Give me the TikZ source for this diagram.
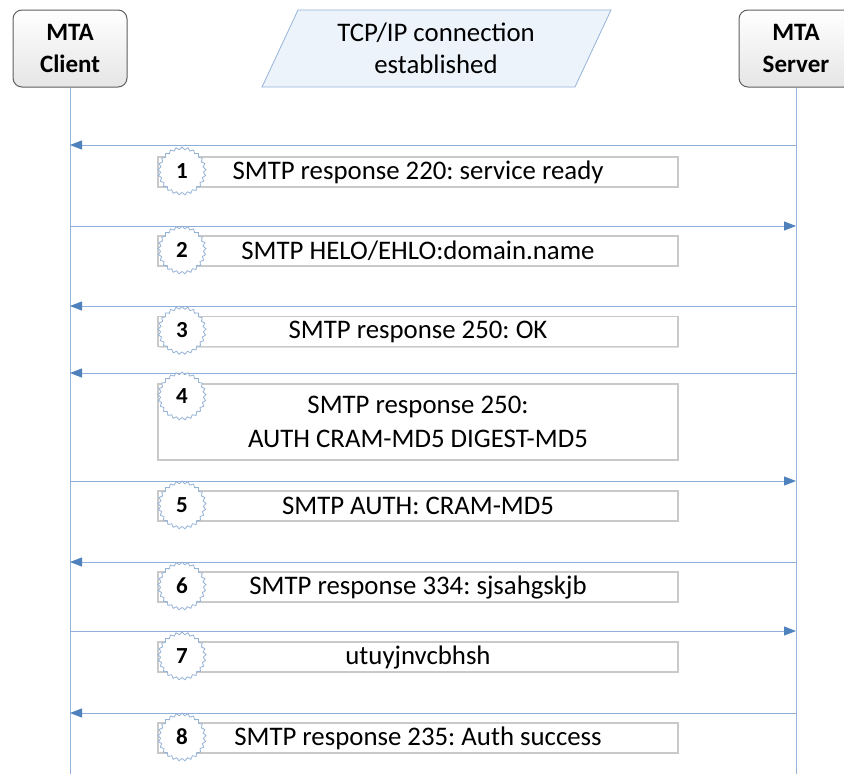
\documentclass[tikz,border=0pt]{standalone}
\usepackage{fontspec}
\setmainfont{Carlito}
\usetikzlibrary{arrows.meta,shapes.geometric,shadows}
\definecolor{lifeblue}{HTML}{95B3D7}
\definecolor{arrowblue}{HTML}{4F81BD}
\definecolor{msgline}{HTML}{8EB0DA}
\definecolor{paraFill}{HTML}{EDF3FB}
\definecolor{boxgray}{HTML}{C9C9C9}
\definecolor{actorgray}{HTML}{5F5F5F}
\tikzset{
  actor/.style={draw=actorgray, line width=1pt, rounded corners=9pt,
    top color=white, bottom color=black!10, minimum width=114pt,
    minimum height=77pt, align=center, font=\fontsize{25}{32}\selectfont\bfseries},
  lifeline/.style={draw=lifeblue, line width=1pt},
  msg/.style={draw=msgline, line width=1pt,
    -{Triangle[length=12pt,width=9pt,fill=arrowblue,color=arrowblue]}},
  msgbox/.style={draw=boxgray, line width=1.2pt, fill=white, minimum width=520pt,
    align=center, font=\fontsize{26.8}{34}\selectfont,
    drop shadow={shadow xshift=1pt, shadow yshift=-1pt, opacity=0.25}},
  badge/.style={star, star points=25, star point ratio=1.12, minimum size=48pt,
    draw=lifeblue, line width=0.8pt, fill=white, inner sep=0pt,
    font=\fontsize{23}{23}\selectfont\bfseries}
}
\begin{document}
\frenchspacing
\begin{tikzpicture}[x=1pt,y=-1pt]
\useasboundingbox (0,0) rectangle (844,774);

% participants
\node[actor] (client) at (70,48.5) {MTA\\Client};
\node[actor] (server) at (796,48.5) {MTA\\Server};

% connection banner
\draw[draw=lifeblue, fill=paraFill, line width=0.8pt]
  (298,10) -- (611,10) -- (575,87) -- (262,87) -- cycle;
\node[align=center, font=\fontsize{26.8}{32}\selectfont] (conn) at (436,48.5)
  {TCP/IP connection\\established};

% lifelines
\coordinate (cend) at (70,774);
\coordinate (send) at (796,774);
\draw[lifeline] (client.south) -- (cend);
\draw[lifeline] (server.south) -- (send);

% message arrows
\foreach \y/\dir [count=\i] in {145/sc, 226/cs, 306/sc, 373/sc, 481/cs, 562/sc, 631/cs, 713/sc}{
  \coordinate (c\i) at (70,\y);
  \coordinate (s\i) at (796,\y);
  \ifnum\pdfstrcmp{\dir}{sc}=0
    \draw[msg] (s\i) -- (c\i);
  \else
    \draw[msg] (c\i) -- (s\i);
  \fi
}

% message boxes
\node[msgbox, minimum height=30pt] (m1) at (418,172) {SMTP response 220: service ready};
\node[msgbox, minimum height=30pt] (m2) at (418,251) {SMTP HELO/EHLO:domain.name};
\node[msgbox, minimum height=30pt] (m3) at (418,331.5) {SMTP response 250: OK};
\node[msgbox, minimum height=76pt] (m4) at (418,422) {SMTP response 250:\\AUTH CRAM-MD5 DIGEST-MD5};
\node[msgbox, minimum height=30pt] (m5) at (418,506) {SMTP AUTH: CRAM-MD5};
\node[msgbox, minimum height=30pt] (m6) at (418,587) {SMTP response 334: sjsahgskjb};
\node[msgbox, minimum height=30pt] (m7) at (418,657) {utuyjnvcbhsh};
\node[msgbox, minimum height=30pt] (m8) at (418,738) {SMTP response 235: Auth success};

% step badges
\node[badge] (b1) at (182,171) {1};
\node[badge] (b2) at (182,250) {2};
\node[badge] (b3) at (182,330.5) {3};
\node[badge] (b4) at (182,396) {4};
\node[badge] (b5) at (182,505) {5};
\node[badge] (b6) at (182,586) {6};
\node[badge] (b7) at (182,656) {7};
\node[badge] (b8) at (182,737) {8};
\end{tikzpicture}
\end{document}
